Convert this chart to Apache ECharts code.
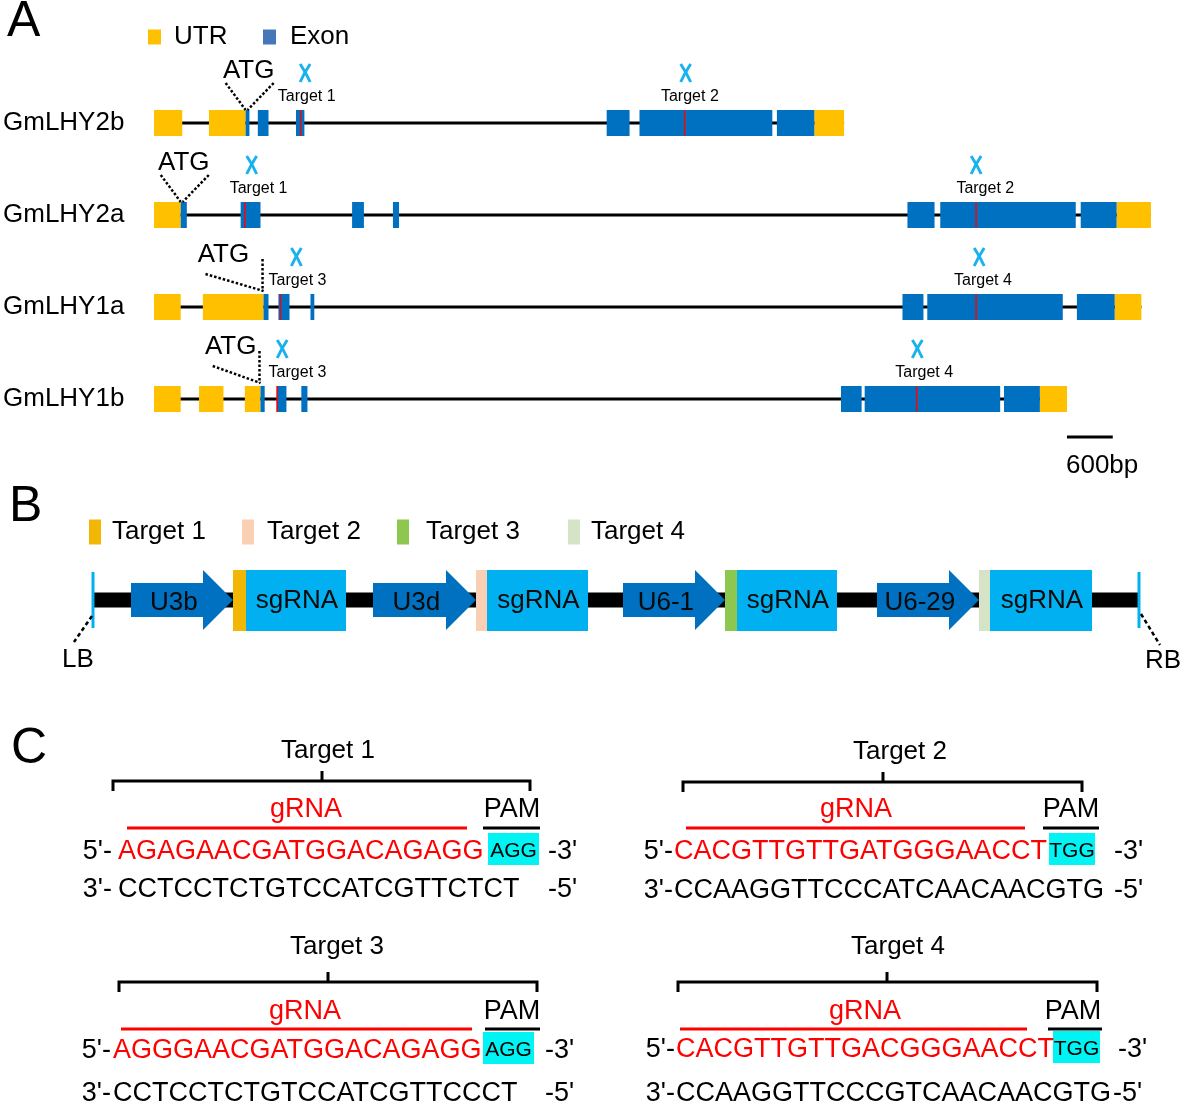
<!DOCTYPE html>
<html><head><meta charset="utf-8">
<script src="https://cdn.jsdelivr.net/npm/echarts@6/dist/echarts.min.js"></script>
<style>html,body{margin:0;padding:0;background:#fff}#c{width:1181px;height:1104px}</style>
</head><body><div id="c"></div>
<script>
// ================= DATA =================
// Panel A: gene structures (positions in bp)
const genes = ['GmLHY2b', 'GmLHY2a', 'GmLHY1a', 'GmLHY1b'];
const geneLengthBp = [9040, 13060, 12935, 11960];
const utrBp = [
  [[0, 370], [720, 1200], [8650, 9040]],
  [[0, 350], [12610, 13060]],
  [[0, 350], [640, 1435], [12585, 12935]],
  [[0, 350], [590, 910], [1190, 1395], [11605, 11960]]
];
const exonBp = [
  [[1200, 1250], [1360, 1500], [1860, 1970], [5930, 6230], [6360, 8100], [8160, 8650]],
  [[350, 430], [1135, 1395], [2595, 2750], [3130, 3210], [9870, 10225], [10300, 12075], [12140, 12610]],
  [[1435, 1500], [1630, 1775], [2050, 2100], [9805, 10080], [10130, 11905], [12090, 12585]],
  [[1395, 1450], [1605, 1735], [1930, 2010], [9000, 9270], [9310, 11085], [11135, 11605]]
];
const atgBp = [1200, 350, 1435, 1395];
const atgLabelBp = [1240, 390, 910, 1005];
const siteBp = [[1920, 6950], [1190, 10770], [1655, 10770], [1615, 9990]];
const siteName = [['Target 1', 'Target 2'], ['Target 1', 'Target 2'], ['Target 3', 'Target 4'], ['Target 3', 'Target 4']];
const markBp = [[1980, 6965], [1280, 10770], [1865, 10810], [1680, 10000]];
const markLabelBp = [[2000, 7020], [1370, 10890], [1880, 10860], [1880, 10090]];
const scaleBarBp = 600;
const scaleBarStartBp = 11960;

// Panel B: construct elements (construct units)
const promoters = ['U3b', 'U3d', 'U6-1', 'U6-29'];
const promoterSpan = [[131, 233], [373, 476], [623, 725], [877, 979]];
const targetNames = ['Target 1', 'Target 2', 'Target 3', 'Target 4'];
const targetStripeSpan = [[233, 246], [476, 487], [725, 737], [979, 990]];
const sgRNASpan = [[246, 346], [487, 588], [737, 837], [990, 1092]];
const backboneSpan = [92, 1138];
const borders = ['LB', 'RB'];
const borderPos = [93, 1139];

// Panel C: sequences
const gRNASeq = ['AGAGAACGATGGACAGAGG', 'CACGTTGTTGATGGGAACCT', 'AGGGAACGATGGACAGAGG', 'CACGTTGTTGACGGGAACCT'];
const pamSeq = ['AGG', 'TGG', 'AGG', 'TGG'];
const compSeq = ['CCTCCTCTGTCCATCGTTCTCT', 'CCAAGGTTCCCATCAACAACGTG', 'CCTCCTCTGTCCATCGTTCCCT', 'CCAAGGTTCCCGTCAACAACGTG'];

// ================= LAYOUT / STYLE =================
const FONT = '"Liberation Sans", Arial, Helvetica, sans-serif';
const COL = {
  utr: '#FFC000', exon: '#0070C0', site: '#FF0000', mark: '#1AB2EE',
  sg: '#00B0F0', prom: '#0070C0', pam: '#00F4F4',
  targets: ['#F2B705', '#FAD0B4', '#8DC74F', '#D5E4C6']
};
const TEXT_DY = 2;
const B_Y = 600;
const legendA = [{name: 'UTR', left: 148, gap: 8}, {name: 'Exon', left: 263, gap: 9, color: '#4677B8'}];
const legendB = [{left: 89, gap: 6}, {left: 242, gap: 8}, {left: 397, gap: 12}, {left: 568, gap: 6}];
const cLayout = [
  {xs: 118, titleX: 328, titleY: 749, brL: 113, brR: 530, brC: 322, brY: 781, lblY: 808, gX: 306, redL: 127, redR: 467, lineY: 828, pamX: 512, pamL: 483, pamR: 540, boxL: 488, boxR: 539, seqY: 850, compY: 888, endL: 112, end3: 548, end5: 548},
  {xs: 674, titleX: 900, titleY: 750, brL: 683, brR: 1082, brC: 883, brY: 782, lblY: 808, gX: 856, redL: 686, redR: 1025, lineY: 828, pamX: 1071, pamL: 1043, pamR: 1099, boxL: 1049, boxR: 1095, seqY: 850, compY: 889, endL: 673, end3: 1114, end5: 1114},
  {xs: 113, titleX: 337, titleY: 945, brL: 119, brR: 537, brC: 328, brY: 982, lblY: 1010, gX: 305, redL: 121, redR: 472, lineY: 1029, pamX: 512, pamL: 485, pamR: 540, boxL: 483, boxR: 534, seqY: 1049, compY: 1092, endL: 111, end3: 545, end5: 545},
  {xs: 676, titleX: 898, titleY: 945, brL: 678, brR: 1097, brC: 887, brY: 982, lblY: 1010, gX: 865, redL: 680, redR: 1027, lineY: 1029, pamX: 1073, pamL: 1048, pamR: 1102, boxL: 1053, boxR: 1100, seqY: 1048, compY: 1092, endL: 675, end3: 1118, end5: 1113}
];

// ================= HELPERS =================
function T(x, y, text, size, fill, align, extra) {
  const el = {type: 'text', x: x, y: y + TEXT_DY, style: {text: text, x: 0, y: 0, fontSize: size, fontFamily: FONT, fill: fill || '#000', align: align || 'center', verticalAlign: 'middle'}};
  if (extra) Object.assign(el, extra);
  return el;
}
function L(x1, y1, x2, y2, stroke, w, dash) {
  return {type: 'line', shape: {x1: x1, y1: y1, x2: x2, y2: y2}, style: {stroke: stroke, lineWidth: w, lineDash: dash || null}};
}
function R(x, y, w, h, fill) {
  return {type: 'rect', shape: {x: x, y: y, width: w, height: h}, style: {fill: fill}};
}
const AX = {xAxisIndex: 0, yAxisIndex: 0, encode: {x: [0, 1], y: 2}};
const BX = {xAxisIndex: 1, yAxisIndex: 1};
function custom(name, axes, data, render, color, z) {
  return Object.assign({type: 'custom', name: name, data: data, renderItem: render, clip: false, silent: true, animation: false, z: z || 2, itemStyle: {color: color || '#000'}}, axes);
}

// ================= SERIES =================
const boxRender = (fill) => (params, api) => {
  const g = api.value(2);
  const p0 = api.coord([api.value(0), g]);
  const p1 = api.coord([api.value(1), g]);
  return R(p0[0], p0[1] - 13, p1[0] - p0[0], 26, fill);
};
const series = [];
// introns (gene backbone lines)
series.push(custom('intron', AX, genes.map((n, g) => [0, geneLengthBp[g], g]), (params, api) => {
  const g = api.value(2);
  const p0 = api.coord([api.value(0), g]);
  const p1 = api.coord([api.value(1), g]);
  return L(p0[0], p0[1], p1[0], p1[1], '#000', 3);
}, '#000', 1));
series.push(custom('UTR', AX, utrBp.flatMap((a, g) => a.map(s => [s[0], s[1], g])), boxRender(COL.utr), COL.utr, 2));
series.push(custom('Exon', AX, exonBp.flatMap((a, g) => a.map(s => [s[0], s[1], g])), boxRender(COL.exon), COL.exon, 2));
// target sites (red ticks)
series.push(custom('site', AX, siteBp.flatMap((a, g) => a.map(b => [b, b, g])), (params, api) => {
  const p = api.coord([api.value(0), api.value(2)]);
  return L(p[0], p[1] - 13, p[0], p[1] + 13, COL.site, 1.5);
}, COL.site, 3));
// cut markers (cyan X) + labels
series.push(custom('marker', AX, markBp.flatMap((a, g) => a.map((b, j) => [b, markLabelBp[g][j], g, j])), (params, api) => {
  const g = api.value(2), j = api.value(3);
  const pm = api.coord([api.value(0), g]);
  const pl = api.coord([api.value(1), g]);
  const cx = pm[0], cy = pm[1] - 50;
  return {type: 'group', children: [
    {type: 'path', shape: {pathData: 'M' + (cx - 5) + ' ' + (cy - 9) + ' Q' + (cx + 1) + ' ' + cy + ' ' + (cx + 5) + ' ' + (cy + 9)}, style: {stroke: COL.mark, lineWidth: 3, fill: null}},
    {type: 'path', shape: {pathData: 'M' + (cx + 5) + ' ' + (cy - 9) + ' Q' + (cx - 1) + ' ' + cy + ' ' + (cx - 5) + ' ' + (cy + 9)}, style: {stroke: COL.mark, lineWidth: 3, fill: null}},
    T(pl[0], pl[1] - 28, siteName[g][j], 16, '#000', 'center')
  ]};
}, COL.mark, 3));
// ATG annotations
series.push(custom('ATG', AX, atgBp.map((b, g) => [b, atgLabelBp[g], g]), (params, api) => {
  const g = api.value(2);
  const pa = api.coord([api.value(0), g]);
  const pl = api.coord([api.value(1), g]);
  const y = pa[1];
  const ch = [T(pl[0], y - 54, 'ATG', 26, '#000', 'center')];
  if (g < 2) {
    ch.push(L(pl[0] - 23, y - 40, pa[0], y - 13, '#000', 2.5, [2.5, 2]));
    ch.push(L(pl[0] + 25, y - 40, pa[0] + 2, y - 13, '#000', 2.5, [2.5, 2]));
  } else {
    ch.push(L(pl[0] - 18, y - 33, pa[0], y - 16, '#000', 2.5, [2.5, 2]));
    ch.push(L(pa[0] - 1, y - 48, pa[0] - 1, y - 16, '#000', 2.5, [2.5, 2]));
  }
  return {type: 'group', children: ch};
}, '#000', 3));
// scale bar
series.push(custom('scale', AX, [[scaleBarStartBp, scaleBarStartBp + scaleBarBp, genes.length - 1]], (params, api) => {
  const g = api.value(2);
  const p0 = api.coord([api.value(0), g]);
  const p1 = api.coord([api.value(1), g]);
  return {type: 'group', children: [
    L(p0[0], p0[1] + 38, p1[0], p1[1] + 38, '#000', 3),
    T(p0[0] - 1, p0[1] + 65, scaleBarBp + 'bp', 26, '#000', 'left')
  ]};
}, '#000', 3));

// Panel B
series.push(custom('backbone', BX, [[backboneSpan[0], backboneSpan[1]]], (params, api) => {
  const p0 = api.coord([api.value(0), B_Y]);
  const p1 = api.coord([api.value(1), B_Y]);
  return R(p0[0], p0[1] - 7.5, p1[0] - p0[0], 15, '#000');
}, '#000', 1));
series.push(custom('border', BX, borderPos.map((x, i) => [x, i]), (params, api) => {
  const i = api.value(1);
  const p = api.coord([api.value(0), B_Y]);
  const ch = [L(p[0], p[1] - 28, p[0], p[1] + 28, COL.sg, 3)];
  if (i === 0) {
    ch.push(L(p[0] - 1, p[1] + 16, p[0] - 19, p[1] + 42, '#000', 2.5, [4, 3]));
    ch.push(T(p[0] - 15, p[1] + 58, borders[i], 26, '#000', 'center'));
  } else {
    ch.push(L(p[0] + 2, p[1] + 14, p[0] + 21, p[1] + 45, '#000', 2.5, [4, 3]));
    ch.push(T(p[0] + 24, p[1] + 59, borders[i], 26, '#000', 'center'));
  }
  return {type: 'group', children: ch};
}, COL.sg, 3));
series.push(custom('promoter', BX, promoterSpan.map((s, i) => [s[0], s[1], i]), (params, api) => {
  const i = api.value(2);
  const p0 = api.coord([api.value(0), B_Y]);
  const p1 = api.coord([api.value(1), B_Y]);
  const s = p0[0], tip = p1[0], h = tip - 30, y = p0[1];
  return {type: 'group', children: [
    {type: 'polygon', shape: {points: [[s, y - 17], [h, y - 17], [h, y - 30], [tip, y], [h, y + 30], [h, y + 17], [s, y + 17]]}, style: {fill: COL.prom}},
    T(s + (tip - s) * 0.42, y + 1, promoters[i], 26, '#0a0a0a', 'center')
  ]};
}, COL.prom, 3));
targetNames.forEach((name, k) => {
  series.push(custom(name, BX, [[targetStripeSpan[k][0], targetStripeSpan[k][1]]], (params, api) => {
    const p0 = api.coord([api.value(0), B_Y]);
    const p1 = api.coord([api.value(1), B_Y]);
    return R(p0[0], p0[1] - 30, p1[0] - p0[0], 61, COL.targets[k]);
  }, COL.targets[k], 3));
});
series.push(custom('sgRNA', BX, sgRNASpan.map((s, i) => [s[0], s[1], i]), (params, api) => {
  const p0 = api.coord([api.value(0), B_Y]);
  const p1 = api.coord([api.value(1), B_Y]);
  return {type: 'group', children: [
    R(p0[0], p0[1] - 30, p1[0] - p0[0], 61, COL.sg),
    T((p0[0] + p1[0]) / 2 + 1, p0[1] - 1, 'sgRNA', 26, '#0a0a0a', 'center')
  ]};
}, COL.sg, 3));

// Panel C
series.push(custom('targetSeq', BX, gRNASeq.map((s, i) => [i, 0]), (params, api) => {
  const i = api.value(0);
  const c = cLayout[i];
  const P = (x, y) => api.coord([x, y]);
  const ch = [];
  let a = P(c.titleX, c.titleY); ch.push(T(a[0], a[1], targetNames[i], 26));
  const bl = P(c.brL, c.brY), br = P(c.brR, c.brY), bc = P(c.brC, c.brY);
  ch.push({type: 'polyline', shape: {points: [[bl[0], bl[1] + 10], [bl[0], bl[1]], [br[0], br[1]], [br[0], br[1] + 10]]}, style: {stroke: '#000', lineWidth: 3, fill: null}});
  ch.push(L(bc[0], bc[1], bc[0], bc[1] - 10, '#000', 3));
  a = P(c.gX, c.lblY); ch.push(T(a[0], a[1], 'gRNA', 27, '#FF0000'));
  a = P(c.pamX, c.lblY); ch.push(T(a[0], a[1], 'PAM', 27, '#000'));
  let l0 = P(c.redL, c.lineY), l1 = P(c.redR, c.lineY); ch.push(L(l0[0], l0[1], l1[0], l1[1], '#FF0000', 3));
  l0 = P(c.pamL, c.lineY); l1 = P(c.pamR, c.lineY); ch.push(L(l0[0], l0[1], l1[0], l1[1], '#000', 3));
  const b0 = P(c.boxL, c.seqY - 17), b1 = P(c.boxR, c.seqY + 15);
  ch.push(R(b0[0], b0[1], b1[0] - b0[0], b1[1] - b0[1], COL.pam));
  ch.push(T((b0[0] + b1[0]) / 2, (b0[1] + b1[1]) / 2, pamSeq[i], 21, '#000'));
  a = P(c.endL, c.seqY); ch.push(T(a[0], a[1], "5'-", 27, '#000', 'right'));
  a = P(c.xs, c.seqY); ch.push(T(a[0], a[1], gRNASeq[i], 27, '#FF0000', 'left'));
  a = P(c.end3, c.seqY); ch.push(T(a[0], a[1], "-3'", 27, '#000', 'left'));
  a = P(c.endL, c.compY); ch.push(T(a[0], a[1], "3'-", 27, '#000', 'right'));
  a = P(c.xs, c.compY); ch.push(T(a[0], a[1], compSeq[i], 27, '#000', 'left'));
  a = P(c.end5, c.compY); ch.push(T(a[0], a[1], "-5'", 27, '#000', 'left'));
  return {type: 'group', children: ch};
}, '#000', 3));

// ================= OPTION =================
const titleStyle = {fontSize: 50, fontWeight: 'normal', fontFamily: FONT, color: '#000'};
const legTxt = (gap) => ({fontSize: 26, fontFamily: FONT, color: '#000', padding: [0, 0, 0, gap]});
const legends = [];
legendA.forEach(it => legends.push({
  data: [it.color ? {name: it.name, itemStyle: {color: it.color}} : {name: it.name}],
  left: it.left, top: 24, padding: 0, icon: 'rect', itemWidth: 13, itemHeight: 15, selectedMode: false, textStyle: legTxt(it.gap)
}));
legendB.forEach((it, k) => legends.push({
  data: [targetNames[k]], left: it.left, top: 519, padding: 0, icon: 'rect', itemWidth: 12, itemHeight: 25, selectedMode: false, textStyle: legTxt(it.gap)
}));
const option = {
  animation: false,
  backgroundColor: '#fff',
  title: [
    {text: 'A', left: 7, top: -3, padding: 0, textStyle: titleStyle},
    {text: 'B', left: 9, top: 482, padding: 0, textStyle: titleStyle},
    {text: 'C', left: 11, top: 724, padding: 0, textStyle: titleStyle}
  ],
  legend: legends,
  grid: [
    {left: 150, top: 77, width: 1004, height: 368},
    {left: 0, top: 0, width: 1181, height: 1104}
  ],
  xAxis: [
    {type: 'value', gridIndex: 0, min: 0, max: 13100, show: false},
    {type: 'value', gridIndex: 1, min: 0, max: 1181, show: false}
  ],
  yAxis: [
    {type: 'category', gridIndex: 0, data: genes, inverse: true, axisLine: {show: false}, axisTick: {show: false}, splitLine: {show: false},
      axisLabel: {align: 'left', margin: 151, fontSize: 26, fontFamily: FONT, color: '#000', padding: [4, 0, 0, 0]}},
    {type: 'value', gridIndex: 1, min: 0, max: 1104, inverse: true, show: false}
  ],
  series: series
};
const chart = echarts.init(document.getElementById('c'), null, {renderer: 'canvas', width: 1181, height: 1104});
chart.setOption(option);
</script>
</body></html>
